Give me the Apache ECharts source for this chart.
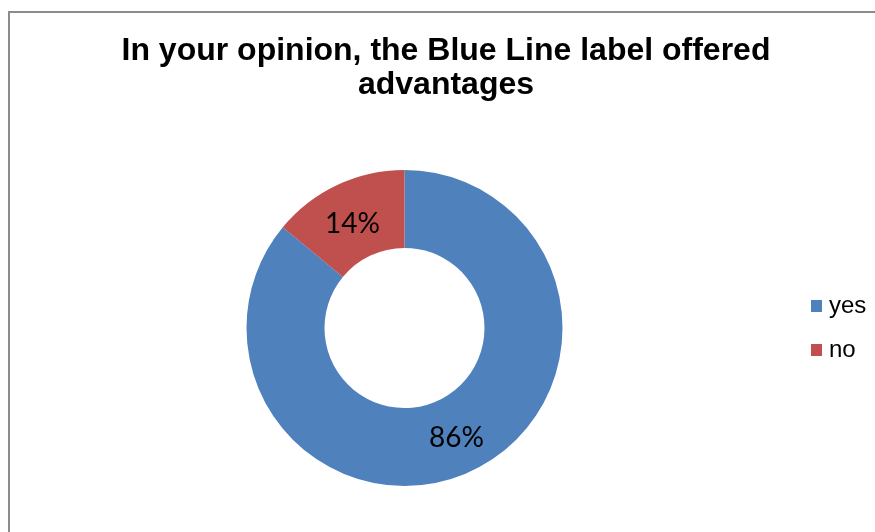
<!DOCTYPE html>
<html>
<head>
<meta charset="utf-8">
<title>Blue Line label advantages</title>
<script src="https://cdn.jsdelivr.net/npm/echarts@6/dist/echarts.min.js"></script>
<style>
  html, body { margin: 0; padding: 0; background: #fff; }
  #chart { width: 875px; height: 532px; }
</style>
</head>
<body>
<div id="chart"></div>
<script>
// Survey answers and their shares (percent)
const categories = ['yes', 'no'];
const shares = [86, 14];
const sliceColors = ['#4F81BD', '#C0504D'];

const chart = echarts.init(document.getElementById('chart'), null, { renderer: 'canvas' });

chart.setOption({
  animation: false,
  backgroundColor: '#ffffff',
  title: {
    text: 'In your opinion, the Blue Line label offered\nadvantages',
    left: 441,
    top: 29,
    textAlign: 'center',
    textStyle: {
      fontFamily: 'Liberation Sans, Arial, sans-serif',
      fontWeight: 'bold',
      fontSize: 32,
      lineHeight: 34,
      color: '#000000'
    }
  },
  graphic: [{
    type: 'rect',
    silent: true,
    shape: { x: 9, y: 12, width: 900, height: 600 },
    style: { fill: 'none', stroke: '#8c8c8c', lineWidth: 2 }
  }],
  legend: {
    orient: 'vertical',
    left: 811,
    top: 294,
    padding: 0,
    icon: 'rect',
    itemWidth: 11,
    itemHeight: 12,
    itemGap: 20,
    selectedMode: false,
    data: categories,
    textStyle: {
      fontFamily: 'Liberation Sans, Arial, sans-serif',
      fontSize: 24,
      color: '#000000',
      padding: [0, 0, 0, 2]
    }
  },
  series: [{
    type: 'pie',
    radius: [80, 158],
    center: [404.5, 328],
    startAngle: 90,
    clockwise: true,
    silent: true,
    avoidLabelOverlap: false,
    color: sliceColors,
    itemStyle: { borderWidth: 0 },
    label: {
      show: true,
      position: 'inside',
      formatter: '{d}%',
      fontFamily: 'Lato, Carlito, sans-serif',
      fontSize: 28,
      color: '#000000'
    },
    labelLine: { show: false },
    data: categories.map((name, i) => ({
      name: name,
      value: shares[i],
      label: name === 'no' ? { offset: [0, 6] } : {}
    }))
  }]
});
</script>
</body>
</html>
